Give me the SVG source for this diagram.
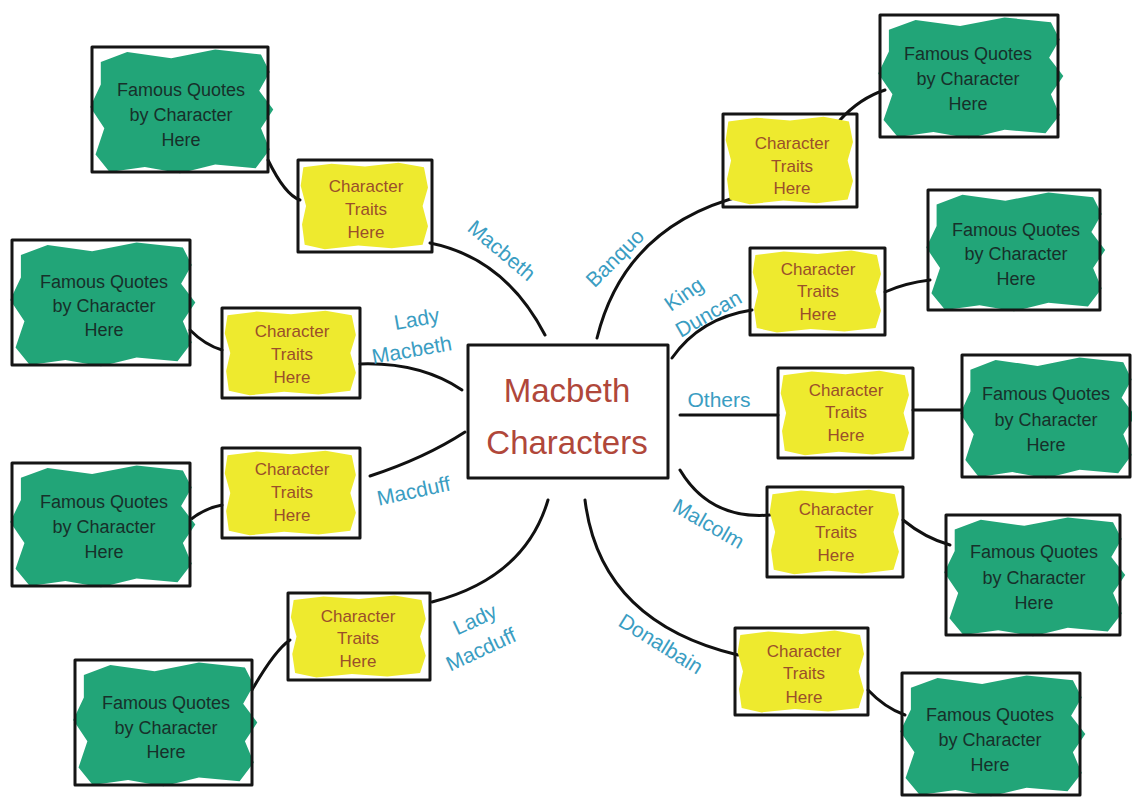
<svg xmlns="http://www.w3.org/2000/svg" xmlns:xlink="http://www.w3.org/1999/xlink" width="1132" height="800" viewBox="0 0 1132 800">
<style>
.frame{fill:none;stroke:#151515;stroke-width:3;stroke-linejoin:round}
.gb{fill:#22a578}
.yb{fill:#eeea2e}
.qt{font-family:"Liberation Sans","DejaVu Sans",sans-serif;font-size:18px;fill:#17302a;text-anchor:middle}
.tt{font-family:"Liberation Sans","DejaVu Sans",sans-serif;font-size:17px;fill:#9a4f2a;text-anchor:middle}
.ct{font-family:"Liberation Sans","DejaVu Sans",sans-serif;font-size:33px;fill:#b0473a;text-anchor:middle}
.lb{font-family:"Liberation Sans","DejaVu Sans",sans-serif;font-size:21px;fill:#3a9dc2;text-anchor:middle}
.cn{fill:none;stroke:#111;stroke-width:3;stroke-linecap:round}
</style>
<defs>
<path id="gblob" d="M5,12 L20,4 L45,9 L70,2 L96,6 L101,20 L95,35 L103,50 L96,65 L101,82 L93,97 L70,94 L50,101 L30,96 L10,100 L2,86 L7,65 L-1,48 L5,30 Z"/>
<path id="yblob" d="M4,8 L25,4 L50,7 L75,3 L94,8 L97,30 L93,50 L97,72 L93,92 L70,96 L45,93 L20,97 L5,92 L3,70 L6,50 L2,28 Z"/>
</defs>
<rect width="1132" height="800" fill="#ffffff"/>

<g id="connectors">
<path class="cn" d="M430,243 Q505,258 545,335"/>
<path class="cn" d="M360,364 Q420,362 462,390"/>
<path class="cn" d="M370,476 Q425,458 465,432"/>
<path class="cn" d="M432,602 Q525,578 548,500"/>
<path class="cn" d="M597,338 Q625,225 745,195"/>
<path class="cn" d="M672,358 Q700,318 752,310"/>
<path class="cn" d="M680,415 L778,415"/>
<path class="cn" d="M680,470 Q710,520 770,515"/>
<path class="cn" d="M585,500 Q600,622 738,655"/>
<path class="cn" d="M268,160 Q285,195 300,200"/>
<path class="cn" d="M190,330 Q205,345 222,350"/>
<path class="cn" d="M190,520 Q205,508 222,505"/>
<path class="cn" d="M252,690 Q275,650 290,640"/>
<path class="cn" d="M840,120 Q860,98 885,90"/>
<path class="cn" d="M885,292 Q905,283 930,280"/>
<path class="cn" d="M913,410 L962,410"/>
<path class="cn" d="M903,520 Q925,538 950,545"/>
<path class="cn" d="M868,690 Q885,708 905,715"/>
</g>

<g id="center">
<rect x="468" y="345" width="200" height="133" fill="#ffffff" class="frame"/>
<text class="ct" x="567" y="402">Macbeth</text>
<text class="ct" x="567" y="454">Characters</text>
</g>

<g id="labels">
<text class="lb" transform="translate(497,256) rotate(40)">Macbeth</text>
<text class="lb" transform="translate(418,326) rotate(-10)">Lady</text>
<text class="lb" transform="translate(413,357) rotate(-10)">Macbeth</text>
<text class="lb" transform="translate(415,498) rotate(-12)">Macduff</text>
<text class="lb" transform="translate(478,626) rotate(-25)">Lady</text>
<text class="lb" transform="translate(484,656) rotate(-25)">Macduff</text>
<text class="lb" transform="translate(620,263) rotate(-45)">Banquo</text>
<text class="lb" transform="translate(688,300) rotate(-35)">King</text>
<text class="lb" transform="translate(712,320) rotate(-30)">Duncan</text>
<text class="lb" x="719" y="407">Others</text>
<text class="lb" transform="translate(705,530) rotate(30)">Malcolm</text>
<text class="lb" transform="translate(657,650) rotate(32)">Donalbain</text>
</g>

<g id="traits-macbeth"><use href="#yblob" class="yb" transform="translate(298,160) scale(1.34,0.92)"/><rect class="frame" x="298" y="160" width="134" height="92"/><text class="tt" x="366" y="192">Character</text><text class="tt" x="366" y="215">Traits</text><text class="tt" x="366" y="238">Here</text></g>
<g id="traits-ladymacbeth"><use href="#yblob" class="yb" transform="translate(222,308) scale(1.38,0.90)"/><rect class="frame" x="222" y="308" width="138" height="90"/><text class="tt" x="292" y="337">Character</text><text class="tt" x="292" y="360">Traits</text><text class="tt" x="292" y="383">Here</text></g>
<g id="traits-macduff"><use href="#yblob" class="yb" transform="translate(222,448) scale(1.38,0.90)"/><rect class="frame" x="222" y="448" width="138" height="90"/><text class="tt" x="292" y="475">Character</text><text class="tt" x="292" y="498">Traits</text><text class="tt" x="292" y="521">Here</text></g>
<g id="traits-ladymacduff"><use href="#yblob" class="yb" transform="translate(288,593) scale(1.42,0.87)"/><rect class="frame" x="288" y="593" width="142" height="87"/><text class="tt" x="358" y="622">Character</text><text class="tt" x="358" y="644">Traits</text><text class="tt" x="358" y="667">Here</text></g>
<g id="traits-banquo"><use href="#yblob" class="yb" transform="translate(723,114) scale(1.34,0.93)"/><rect class="frame" x="723" y="114" width="134" height="93"/><text class="tt" x="792" y="149">Character</text><text class="tt" x="792" y="172">Traits</text><text class="tt" x="792" y="194">Here</text></g>
<g id="traits-duncan"><use href="#yblob" class="yb" transform="translate(750,248) scale(1.35,0.87)"/><rect class="frame" x="750" y="248" width="135" height="87"/><text class="tt" x="818" y="275">Character</text><text class="tt" x="818" y="297">Traits</text><text class="tt" x="818" y="320">Here</text></g>
<g id="traits-others"><use href="#yblob" class="yb" transform="translate(778,368) scale(1.35,0.90)"/><rect class="frame" x="778" y="368" width="135" height="90"/><text class="tt" x="846" y="396">Character</text><text class="tt" x="846" y="418">Traits</text><text class="tt" x="846" y="441">Here</text></g>
<g id="traits-malcolm"><use href="#yblob" class="yb" transform="translate(767,487) scale(1.36,0.90)"/><rect class="frame" x="767" y="487" width="136" height="90"/><text class="tt" x="836" y="515">Character</text><text class="tt" x="836" y="538">Traits</text><text class="tt" x="836" y="561">Here</text></g>
<g id="traits-donalbain"><use href="#yblob" class="yb" transform="translate(735,628) scale(1.33,0.87)"/><rect class="frame" x="735" y="628" width="133" height="87"/><text class="tt" x="804" y="657">Character</text><text class="tt" x="804" y="679">Traits</text><text class="tt" x="804" y="703">Here</text></g>

<g id="quotes-macbeth"><use href="#gblob" class="gb" transform="translate(92,47) scale(1.76,1.25)"/><rect class="frame" x="92" y="47" width="176" height="125"/><text class="qt" x="181" y="96">Famous Quotes</text><text class="qt" x="181" y="121">by Character</text><text class="qt" x="181" y="146">Here</text></g>
<g id="quotes-ladymacbeth"><use href="#gblob" class="gb" transform="translate(12,240) scale(1.78,1.25)"/><rect class="frame" x="12" y="240" width="178" height="125"/><text class="qt" x="104" y="288">Famous Quotes</text><text class="qt" x="104" y="312">by Character</text><text class="qt" x="104" y="336">Here</text></g>
<g id="quotes-macduff"><use href="#gblob" class="gb" transform="translate(12,463) scale(1.78,1.23)"/><rect class="frame" x="12" y="463" width="178" height="123"/><text class="qt" x="104" y="508">Famous Quotes</text><text class="qt" x="104" y="533">by Character</text><text class="qt" x="104" y="558">Here</text></g>
<g id="quotes-ladymacduff"><use href="#gblob" class="gb" transform="translate(75,660) scale(1.77,1.25)"/><rect class="frame" x="75" y="660" width="177" height="125"/><text class="qt" x="166" y="709">Famous Quotes</text><text class="qt" x="166" y="734">by Character</text><text class="qt" x="166" y="758">Here</text></g>
<g id="quotes-banquo"><use href="#gblob" class="gb" transform="translate(880,15) scale(1.78,1.22)"/><rect class="frame" x="880" y="15" width="178" height="122"/><text class="qt" x="968" y="60">Famous Quotes</text><text class="qt" x="968" y="85">by Character</text><text class="qt" x="968" y="110">Here</text></g>
<g id="quotes-duncan"><use href="#gblob" class="gb" transform="translate(928,190) scale(1.72,1.20)"/><rect class="frame" x="928" y="190" width="172" height="120"/><text class="qt" x="1016" y="236">Famous Quotes</text><text class="qt" x="1016" y="260">by Character</text><text class="qt" x="1016" y="285">Here</text></g>
<g id="quotes-others"><use href="#gblob" class="gb" transform="translate(962,355) scale(1.68,1.22)"/><rect class="frame" x="962" y="355" width="168" height="122"/><text class="qt" x="1046" y="400">Famous Quotes</text><text class="qt" x="1046" y="426">by Character</text><text class="qt" x="1046" y="451">Here</text></g>
<g id="quotes-malcolm"><use href="#gblob" class="gb" transform="translate(946,515) scale(1.74,1.20)"/><rect class="frame" x="946" y="515" width="174" height="120"/><text class="qt" x="1034" y="558">Famous Quotes</text><text class="qt" x="1034" y="584">by Character</text><text class="qt" x="1034" y="609">Here</text></g>
<g id="quotes-donalbain"><use href="#gblob" class="gb" transform="translate(902,673) scale(1.78,1.22)"/><rect class="frame" x="902" y="673" width="178" height="122"/><text class="qt" x="990" y="721">Famous Quotes</text><text class="qt" x="990" y="746">by Character</text><text class="qt" x="990" y="771">Here</text></g>
</svg>
